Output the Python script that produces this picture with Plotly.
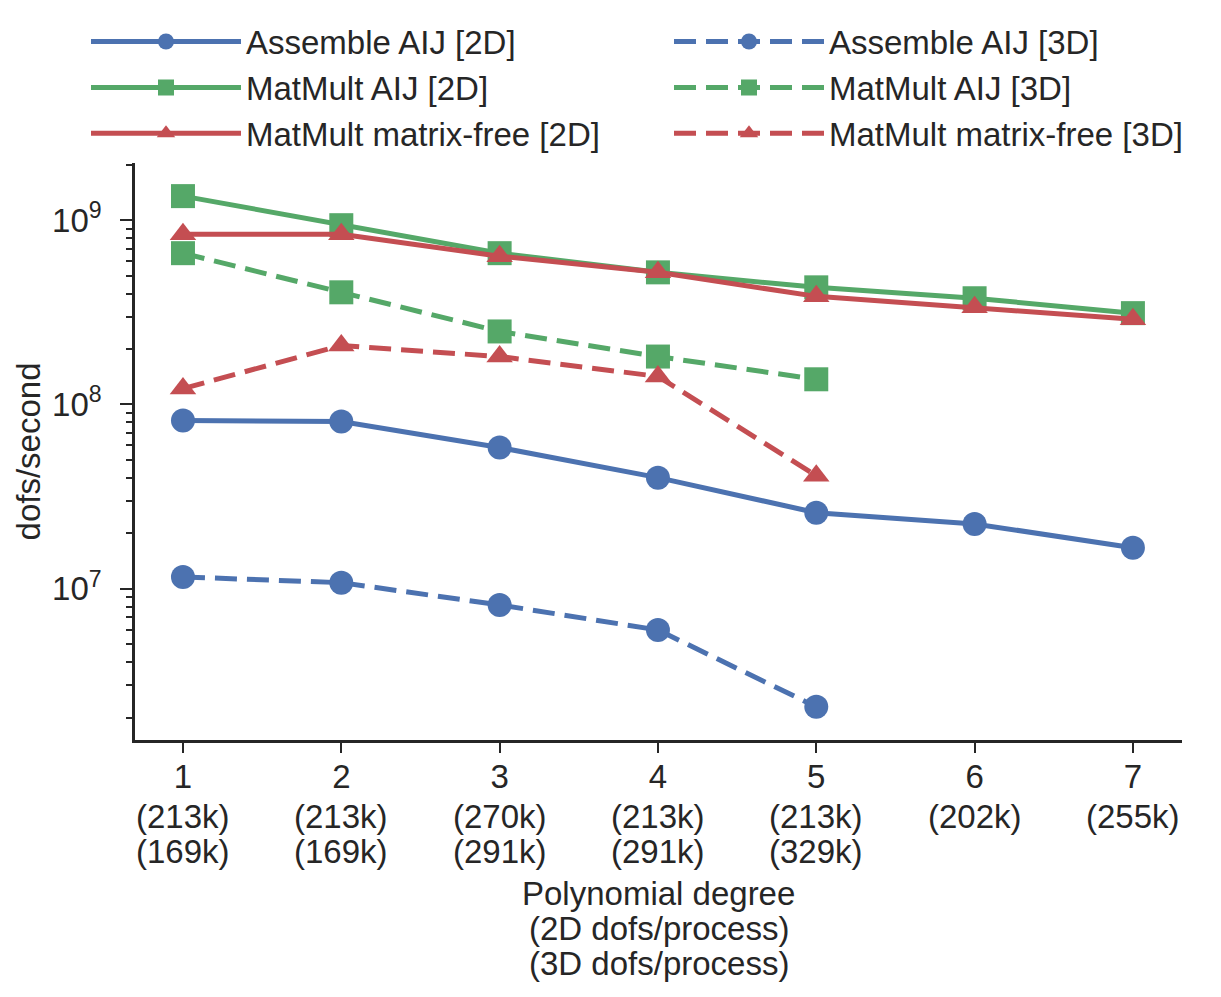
import plotly.graph_objects as go

degrees = [1, 2, 3, 4, 5, 6, 7]
dofs_2d = ["213k", "213k", "270k", "213k", "213k", "202k", "255k"]
degrees_3d = [1, 2, 3, 4, 5]
dofs_3d = ["169k", "169k", "291k", "291k", "329k"]

assemble_2d = [8.18e7, 8.09e7, 5.84e7, 4.01e7, 2.59e7, 2.25e7, 1.67e7]
matmult_aij_2d = [1.35e9, 9.39e8, 6.62e8, 5.21e8, 4.32e8, 3.77e8, 3.13e8]
matmult_free_2d = [8.39e8, 8.39e8, 6.37e8, 5.21e8, 3.86e8, 3.37e8, 2.90e8]

assemble_3d = [1.16e7, 1.08e7, 8.18e6, 5.98e6, 2.29e6]
matmult_aij_3d = [6.62e8, 4.06e8, 2.49e8, 1.82e8, 1.37e8]
matmult_free_3d = [1.22e8, 2.09e8, 1.82e8, 1.42e8, 4.11e7]

x_title_lines = ["Polynomial degree", "(2D dofs/process)", "(3D dofs/process)"]

BLUE = "#4C72B0"
GREEN = "#55A868"
RED = "#C44E52"
INK = "#262626"
FONT = "Liberation Sans, Arial, sans-serif"
FS = 33
DASH = "22px,10px"

series = [
    ("Assemble AIJ [2D]", degrees, assemble_2d, BLUE, "circle", "solid", "legend"),
    ("MatMult AIJ [2D]", degrees, matmult_aij_2d, GREEN, "square", "solid", "legend"),
    ("MatMult matrix-free [2D]", degrees, matmult_free_2d, RED, "triangle-up", "solid", "legend"),
    ("Assemble AIJ [3D]", degrees_3d, assemble_3d, BLUE, "circle", DASH, "legend2"),
    ("MatMult AIJ [3D]", degrees_3d, matmult_aij_3d, GREEN, "square", DASH, "legend2"),
    ("MatMult matrix-free [3D]", degrees_3d, matmult_free_3d, RED, "triangle-up", DASH, "legend2"),
]

fig = go.Figure()
for name, xs, ys, col, sym, dash, lg in series:
    fig.add_trace(go.Scatter(
        x=xs, y=ys, name=name, mode="lines+markers", legend=lg,
        line=dict(color=col, width=5, dash=dash),
        marker=dict(color=col, symbol=sym, size=24 if sym != "triangle-up" else 23),
    ))

annotations = []
for d, a in zip(degrees, dofs_2d):
    annotations.append(dict(x=d, y=0, xref="x", yref="paper", text=f"({a})",
                            showarrow=False, yanchor="middle", yshift=-76,
                            font=dict(size=FS, color=INK, family=FONT)))
for d, b in zip(degrees_3d, dofs_3d):
    annotations.append(dict(x=d, y=0, xref="x", yref="paper", text=f"({b})",
                            showarrow=False, yanchor="middle", yshift=-111,
                            font=dict(size=FS, color=INK, family=FONT)))
for i, line in enumerate(x_title_lines):
    annotations.append(dict(x=0.5, y=0, xref="paper", yref="paper", text=line,
                            showarrow=False, yanchor="middle", yshift=-153 - 35 * i,
                            font=dict(size=FS, color=INK, family=FONT)))

legend_common = dict(
    orientation="v", xanchor="left", yanchor="top",
    font=dict(size=FS, color=INK, family=FONT),
    bgcolor="rgba(0,0,0,0)", itemwidth=150, tracegroupgap=0,
)

fig.update_layout(
    width=1221, height=997,
    margin=dict(l=135, r=39, t=163, b=257),
    plot_bgcolor="white", paper_bgcolor="white",
    font=dict(family=FONT, size=FS, color=INK),
    showlegend=True,
    legend=dict(x=(86 - 135) / 1047, y=1.259, **legend_common),
    legend2=dict(x=(669 - 135) / 1047, y=1.259, **legend_common),
    annotations=annotations,
    xaxis=dict(
        range=[0.697, 7.31],
        tickvals=degrees, ticktext=[str(d) for d in degrees],
        ticks="outside", ticklen=10, tickwidth=2, tickcolor=INK,
        ticklabelstandoff=-4,
        showline=True, linecolor=INK, linewidth=2.5,
        showgrid=False, zeroline=False,
        tickfont=dict(size=FS),
    ),
    yaxis=dict(
        type="log", range=[6.18, 9.31],
        tickvals=[1e7, 1e8, 1e9],
        ticktext=["10<sup>7</sup>", "10<sup>8</sup>", "10<sup>9</sup>"],
        ticks="outside", ticklen=12, tickwidth=2, tickcolor=INK,
        ticklabelstandoff=12,
        minor=dict(ticks="outside", ticklen=6, tickwidth=1.5, tickcolor=INK,
                   dtick="D1", showgrid=False),
        showline=True, linecolor=INK, linewidth=2.5,
        showgrid=False, zeroline=False,
        title=dict(text="dofs/second", standoff=2, font=dict(size=FS)),
        tickfont=dict(size=FS),
    ),
)

fig.write_html("out.html")
